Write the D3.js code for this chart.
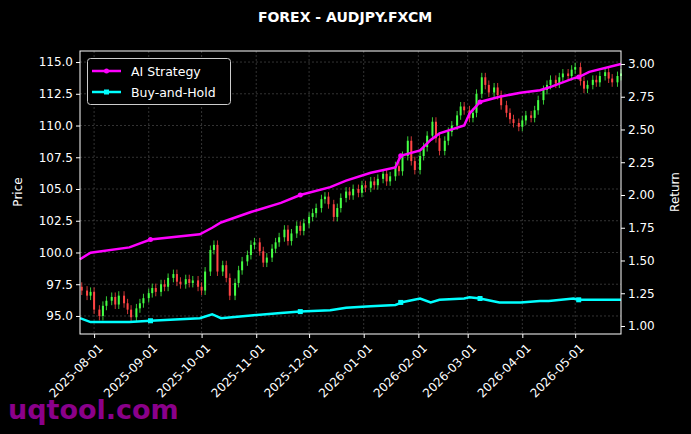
<!DOCTYPE html>
<html><head><meta charset="utf-8">
<script src="https://cdn.jsdelivr.net/npm/d3@7"></script>
<style>body{margin:0;background:#000}</style></head>
<body><svg id="c" width="691" height="434"></svg>
<script>
const candleStart = "2025-07-24"; // Mon/Wed/Fri candles
const closes = [97.0,96.6,96.9, 95.5,95.0,95.8, 96.2,96.5,95.9, 96.6,96.0,95.5, 94.9,95.6,96.0,
 96.4,96.8,97.2, 96.9,97.5,97.3, 98.0,98.3,97.7, 97.5,97.9,97.6, 97.8,97.3,97.0,
 98.5,100.2,100.6, 98.5,99.0,98.0, 96.6,97.6,98.6, 99.3,99.8,100.6, 100.8,100.1,99.2,
 99.6,100.3,100.8, 101.2,101.8,100.9, 101.5,102.1,101.7, 102.3,102.8,103.1, 103.5,104.2,104.4,
 103.8,102.8,103.5, 104.3,104.8,104.5, 105.0,104.7,105.3, 105.1,105.6,105.3, 105.8,106.2,105.6,
 106.0,106.8,106.4, 107.6,108.8,107.2, 106.5,107.6,108.3, 109.2,110.3,109.0, 108.0,108.8,109.5,
 110.0,110.8,111.5, 111.2,110.6,111.0, 112.5,113.8,113.2, 112.6,113.0,112.4, 111.6,111.0,110.5,
 110.2,109.9,110.4, 110.8,110.6,111.2, 112.0,112.8,113.2, 113.6,113.3,113.8, 114.1,113.9,114.4,
 114.6,113.5,112.9, 113.2,113.6,113.4, 113.9,114.2,113.7, 113.4,113.9,114.1];
const lineDates = ["2025-07-24","2025-07-30","2025-08-21","2025-09-02","2025-09-30","2025-10-07","2025-10-12","2025-10-29","2025-11-15","2025-11-26","2025-12-13","2025-12-22","2026-01-05","2026-01-19","2026-01-21","2026-01-22","2026-02-02","2026-02-08","2026-02-13","2026-02-27","2026-03-02","2026-03-08","2026-03-19","2026-03-31","2026-04-11","2026-04-16","2026-04-30","2026-05-03","2026-05-09","2026-05-27"];
const aiReturn = [1.51,1.56,1.6,1.66,1.7,1.75,1.79,1.87,1.94,2.0,2.06,2.11,2.17,2.21,2.27,2.30,2.34,2.42,2.47,2.53,2.62,2.71,2.75,2.78,2.8,2.82,2.89,2.9,2.94,3.0];
const bhReturn = [1.06,1.03,1.03,1.04,1.06,1.09,1.06,1.08,1.10,1.11,1.12,1.14,1.15,1.16,1.17,1.18,1.21,1.18,1.20,1.21,1.22,1.21,1.18,1.18,1.19,1.19,1.21,1.20,1.20,1.20];
const priceTicks = [95,97.5,100,102.5,105,107.5,110,112.5,115];
const returnTicks = [1.0,1.25,1.5,1.75,2.0,2.25,2.5,2.75,3.0];
const monthTicks = ["2025-08-01","2025-09-01","2025-10-01","2025-11-01","2025-12-01","2026-01-01","2026-02-01","2026-03-01","2026-04-01","2026-05-01"];

const P = d3.timeParse("%Y-%m-%d");
const svg = d3.select("#c");
const L=80,R=621,T=51,B=334;
const x = d3.scaleTime().domain([P("2025-07-24"),P("2026-05-27")]).range([L,R]);
const y = d3.scaleLinear().domain([93.58,115.87]).range([B,T]);
const y2 = d3.scaleLinear().domain([0.939,3.099]).range([B,T]);
const font="DejaVu Sans, sans-serif";

const cd=[]; let d=P(candleStart);
while(cd.length<closes.length){ const w=d.getDay(); if(w===1||w===3||w===5) cd.push(new Date(d)); d=d3.timeDay.offset(d,1);}
const candles = closes.map((c,i)=>{const o=i?closes[i-1]:c+0.3;return {d:cd[i],o,c,h:Math.max(o,c)+0.35,l:Math.min(o,c)-0.35};});

const g=svg.append("g");
priceTicks.forEach(t=>g.append("line").attr("x1",L).attr("x2",R).attr("y1",y(t)).attr("y2",y(t)));
monthTicks.forEach(t=>g.append("line").attr("x1",x(P(t))).attr("x2",x(P(t))).attr("y1",T).attr("y2",B));
g.selectAll("line").attr("stroke","#555").attr("stroke-width",0.6).attr("stroke-dasharray","2,2");

const cg=svg.append("g");
candles.forEach(k=>{const col=k.c>=k.o?"#44ff44":"#ff4444";const cx=x(k.d);
 cg.append("line").attr("x1",cx).attr("x2",cx).attr("y1",y(k.h)).attr("y2",y(k.l)).attr("stroke",col).attr("stroke-width",0.8);
 cg.append("rect").attr("x",cx-1).attr("width",2).attr("y",y(Math.max(k.o,k.c))).attr("height",Math.max(1,Math.abs(y(k.o)-y(k.c)))).attr("fill",col);});

const ln=(arr)=>d3.line().x((v,i)=>x(P(lineDates[i]))).y(v=>y2(v))(arr);
svg.append("path").attr("d",ln(bhReturn)).attr("fill","none").attr("stroke","#00ffff").attr("stroke-width",2.5);
svg.append("path").attr("d",ln(aiReturn)).attr("fill","none").attr("stroke","#ff00ff").attr("stroke-width",2.5);
[3,9,15,21,27].forEach(i=>{
 svg.append("rect").attr("x",x(P(lineDates[i]))-2.5).attr("y",y2(bhReturn[i])-2.5).attr("width",5).attr("height",5).attr("fill","#00ffff");
 svg.append("circle").attr("cx",x(P(lineDates[i]))).attr("cy",y2(aiReturn[i])).attr("r",2.5).attr("fill","#ff00ff");});

svg.append("rect").attr("x",L).attr("y",T).attr("width",R-L).attr("height",B-T).attr("fill","none").attr("stroke","#fff").attr("stroke-width",1);

const ax=(sel)=>{sel.selectAll("text").attr("fill","#fff").style("font-family",font).style("font-size","12px");sel.selectAll("line").attr("stroke","#fff");sel.select(".domain").remove();};
svg.append("g").attr("transform",`translate(${L},0)`).call(d3.axisLeft(y).tickValues(priceTicks).tickFormat(d3.format(".1f")).tickSize(4).tickPadding(3)).call(ax);
svg.append("g").attr("transform",`translate(${R},0)`).call(d3.axisRight(y2).tickValues(returnTicks).tickFormat(d3.format(".2f")).tickSize(4).tickPadding(3)).call(ax);
const xa=svg.append("g").attr("transform",`translate(0,${B})`).call(d3.axisBottom(x).tickValues(monthTicks.map(P)).tickFormat(d3.timeFormat("%Y-%m-%d")).tickSize(4)).call(ax);
xa.selectAll("text").attr("text-anchor","end").attr("dx","0").attr("dy","0").attr("transform","translate(4,10) rotate(-45)");

svg.append("text").attr("x",345).attr("y",22).attr("text-anchor","middle").attr("fill","#fff").style("font-family",font).style("font-size","14px").style("font-weight","bold").text("FOREX - AUDJPY.FXCM");
svg.append("text").attr("transform","translate(22,192) rotate(-90)").attr("text-anchor","middle").attr("fill","#fff").style("font-family",font).style("font-size","12px").text("Price");
svg.append("text").attr("transform","translate(679,192) rotate(-90)").attr("text-anchor","middle").attr("fill","#fff").style("font-family",font).style("font-size","12px").text("Return");

const lg=svg.append("g");
lg.append("rect").attr("x",87.5).attr("y",58.5).attr("width",143).attr("height",46).attr("rx",3).attr("fill","#000").attr("stroke","#ccc");
[["AI Strategy","#ff00ff",71],["Buy-and-Hold","#00ffff",92]].forEach(([t,c,yy],i)=>{
 lg.append("line").attr("x1",92).attr("x2",121).attr("y1",yy).attr("y2",yy).attr("stroke",c).attr("stroke-width",2.5);
 if(i) lg.append("rect").attr("x",104).attr("y",yy-2.5).attr("width",5).attr("height",5).attr("fill",c);
 else lg.append("circle").attr("cx",106.5).attr("cy",yy).attr("r",2.5).attr("fill",c);
 lg.append("text").attr("x",131).attr("y",yy+4.5).attr("fill","#fff").style("font-family",font).style("font-size","12.5px").text(t);});

svg.append("text").attr("x",8).attr("y",419).attr("fill","#990099").attr("opacity",0.9).style("font-family",font).style("font-size","27px").style("font-weight","bold").text("uqtool.com");
</script></body></html>
